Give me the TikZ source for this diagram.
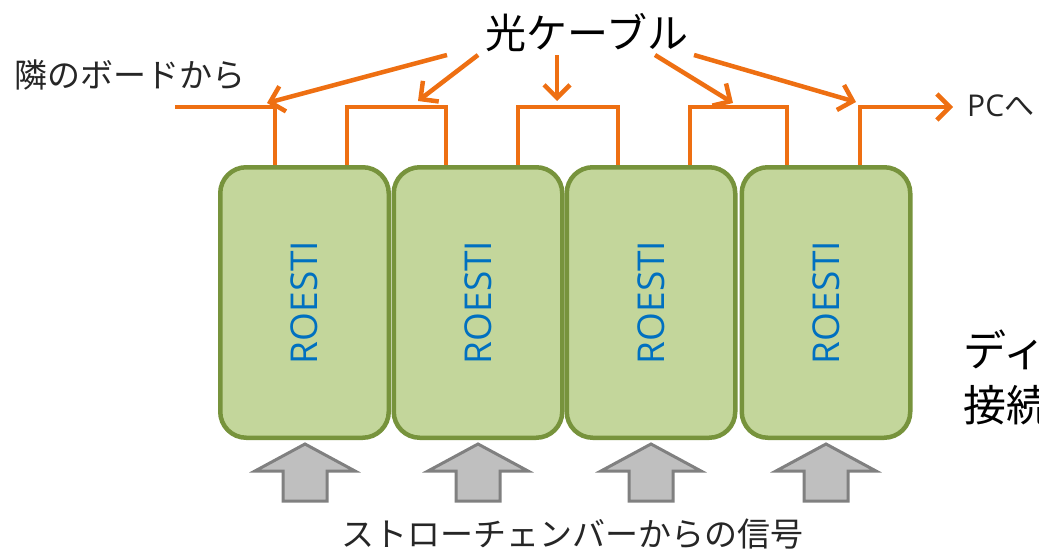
\documentclass[tikz,border=0pt]{standalone}
\usepackage{fontspec}
\setmainfont{Noto Sans CJK JP}
\newfontfamily\latinsans{Open Sans}
\usetikzlibrary{arrows.meta}
\definecolor{cable}{HTML}{EE6F12}
\definecolor{boxline}{HTML}{77933C}
\definecolor{boxfill}{HTML}{C3D69B}
\definecolor{roestiblue}{HTML}{0070C0}
\definecolor{sigfill}{HTML}{BFBFBF}
\definecolor{sigline}{HTML}{808080}
\tikzset{
  roestibox/.style={draw=boxline, fill=boxfill, line width=4.5pt, rounded corners=26pt,
    minimum width=168.5pt, minimum height=270.5pt, inner sep=0pt, text=roestiblue,
    font=\latinsans\fontsize{37}{37}\selectfont},
  cableline/.style={draw=cable, line width=4.5pt},
  pointer/.style={draw=cable, line width=4.5pt, -{Straight Barb[length=13pt,width=26pt]}},
  sigarrow/.style={draw=sigline, fill=sigfill, line width=3pt, line join=miter},
  jtext/.style={text=black!85, inner sep=0pt}
}
\begin{document}
\begin{tikzpicture}[x=1pt,y=-1pt]
\useasboundingbox (0,0) rectangle (1039,552);

% ROESTI boards
\node[roestibox] (b1) at (304.5,302.5) {\rotatebox{90}{ROESTI}};
\node[roestibox] (b2) at (478,302.5) {\rotatebox{90}{ROESTI}};
\node[roestibox] (b3) at (651,302.5) {\rotatebox{90}{ROESTI}};
\node[roestibox] (b4) at (826,302.5) {\rotatebox{90}{ROESTI}};

% cable coordinates
\coordinate (in) at (175,107);
\coordinate (c1) at (275,107);
\coordinate (l1a) at (347,107);
\coordinate (l1b) at (446,107);
\coordinate (l2a) at (518,107);
\coordinate (l2b) at (618,107);
\coordinate (l3a) at (690,107);
\coordinate (l3b) at (787,107);
\coordinate (out) at (860,107);
\coordinate (pcend) at (953,107);

% daisy chain cable
\draw[cableline] (in) -- (c1) -- (c1 |- b1.north);
\draw[cableline] (l1a |- b1.north) -- (l1a) -- (l1b) -- (l1b |- b2.north);
\draw[cableline] (l2a |- b2.north) -- (l2a) -- (l2b) -- (l2b |- b3.north);
\draw[cableline] (l3a |- b3.north) -- (l3a) -- (l3b) -- (l3b |- b4.north);
\draw[pointer] (out |- b4.north) -- (out) -- (pcend);

% labels
\node[jtext, text=black, font=\fontsize{41}{41}\selectfont] (cabletext) at (587,33) {光ケーブル};
\node[jtext, anchor=west, font=\fontsize{33}{33}\selectfont] (neighbor) at (14,75) {隣のボードから};
\node[jtext, anchor=west, font=\fontsize{30}{30}\selectfont] (pc) at (967,106) {{\latinsans PC}へ};
\node[jtext, text=black, anchor=west, font=\fontsize{43}{43}\selectfont] (dc1) at (963,350) {ディ};
\node[jtext, text=black, anchor=west, font=\fontsize{43}{43}\selectfont] (dc2) at (963,405) {接続};
\node[jtext, font=\fontsize{33}{33}\selectfont] (signal) at (572,534) {ストローチェンバーからの信号};

% pointers from the label to the cables
\coordinate (s1) at (447,55);  \coordinate (t1) at (267,103);
\coordinate (s2) at (478,55);  \coordinate (t2) at (418,101);
\coordinate (s3) at (557,55);  \coordinate (t3) at (557,101);
\coordinate (s4) at (655,55);  \coordinate (t4) at (733,103);
\coordinate (s5) at (694,55);  \coordinate (t5) at (856,102);
\foreach \i in {1,...,5} \draw[pointer] (s\i) -- (t\i);

% signal arrows from the straw chambers
\foreach \cx in {305,478,651,826}
  \draw[sigarrow] (\cx,444) -- ++(50,27) -- ++(-28,0) -- ++(0,30) -- ++(-44,0)
    -- ++(0,-30) -- ++(-28,0) -- cycle;
\end{tikzpicture}
\end{document}
